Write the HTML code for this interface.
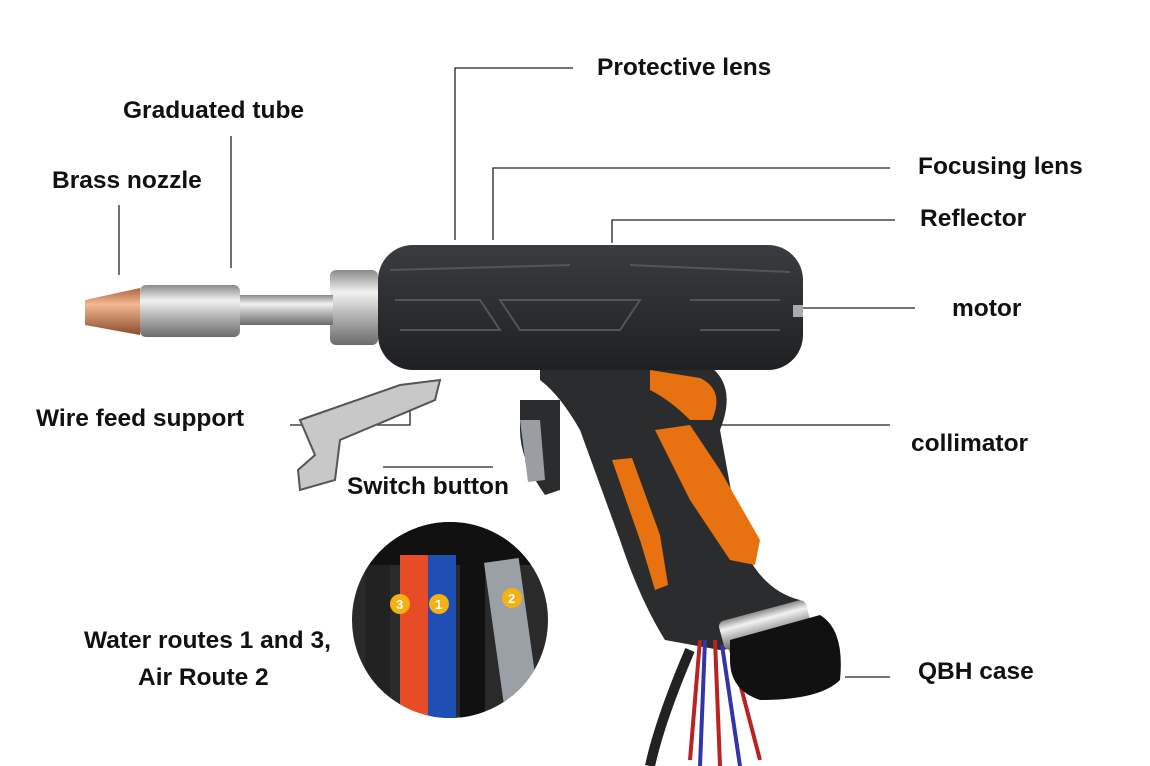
<!DOCTYPE html>
<html><head><meta charset="utf-8"><style>
html,body{margin:0;padding:0;background:#fff;}
svg{display:block;}
text{font-family:"Liberation Sans",Arial,sans-serif;font-weight:bold;font-size:24.5px;fill:#111;}
</style></head><body>
<svg width="1150" height="766" viewBox="0 0 1150 766" xmlns="http://www.w3.org/2000/svg">
<defs>
<linearGradient id="metal" x1="0" y1="0" x2="0" y2="1">
<stop offset="0" stop-color="#8a8a8a"/><stop offset="0.3" stop-color="#f2f2f2"/><stop offset="0.6" stop-color="#b5b5b5"/><stop offset="1" stop-color="#6b6b6b"/></linearGradient>
<linearGradient id="copper" x1="0" y1="0" x2="0" y2="1">
<stop offset="0" stop-color="#b0643c"/><stop offset="0.35" stop-color="#f3b894"/><stop offset="1" stop-color="#8c4a2a"/></linearGradient>
<linearGradient id="body" x1="0" y1="0" x2="0" y2="1">
<stop offset="0" stop-color="#3a3d40"/><stop offset="1" stop-color="#1e2022"/></linearGradient>
<clipPath id="ic"><circle cx="450" cy="620" r="98"/></clipPath>
</defs>

<g stroke="#222" stroke-width="1.3" fill="none">
<polyline points="573,68 455,68 455,240"/>
<line x1="231" y1="136" x2="231" y2="268"/>
<line x1="119" y1="205" x2="119" y2="275"/>
<polyline points="890,168 493,168 493,240"/>
<polyline points="895,220 612,220 612,243"/>
<line x1="800" y1="308" x2="915" y2="308"/>
<line x1="705" y1="425" x2="890" y2="425"/>
<line x1="845" y1="677" x2="890" y2="677"/>
<polyline points="290,425 410,425 410,402"/>
<line x1="383" y1="467" x2="493" y2="467"/>
</g>

<path d="M540,360 L700,360 Q740,380 720,430 L740,540 Q760,590 800,600 L810,640 L720,650 L665,640 Q640,600 620,540 L580,430 Q560,395 540,380 Z" fill="#2a2c2e"/>
<path d="M650,370 L700,378 Q725,390 712,420 L690,420 Q670,400 650,390 Z" fill="#e8720f"/>
<path d="M655,430 L690,425 L720,470 L760,540 L755,565 L730,560 L690,500 Z" fill="#e8720f"/>
<path d="M612,460 L632,458 L660,535 L668,585 L655,590 L640,540 Z" fill="#e8720f"/>
<path d="M520,400 L560,400 L560,490 L545,495 Q520,460 520,430 Z" fill="#2a2c2e"/>
<path d="M520,420 L540,420 L545,480 L528,482 Z" fill="#9a9ea2"/>
<rect x="378" y="245" width="425" height="125" rx="35" fill="url(#body)"/>
<g stroke="#555" stroke-width="2" fill="none">
<path d="M395,300 L480,300 L500,330 L400,330"/>
<path d="M500,300 L640,300 L620,330 L520,330 Z"/>
<path d="M690,300 L780,300 M700,330 L780,330"/>
<path d="M390,270 L570,265 M630,265 L790,272"/>
</g>
<rect x="793" y="305" width="10" height="12" fill="#aaa"/>
<rect x="330" y="270" width="48" height="75" rx="6" fill="url(#metal)"/>
<rect x="238" y="295" width="95" height="30" fill="url(#metal)"/>
<rect x="140" y="285" width="100" height="52" rx="6" fill="url(#metal)"/>
<path d="M85,300 L140,288 L140,335 L85,325 Z" fill="url(#copper)"/>
<path d="M300,420 L400,385 L440,380 L435,400 L340,440 L335,480 L300,490 L298,470 L315,455 Z" fill="#c8c8c8" stroke="#555" stroke-width="2"/>

<path d="M700,640 L690,760 M715,640 L720,766 M730,645 L760,760" stroke="#b22" stroke-width="4"/>
<path d="M705,640 L700,766 M722,645 L740,766" stroke="#33a" stroke-width="4"/>
<path d="M690,650 Q660,720 650,766" stroke="#222" stroke-width="10" fill="none"/>
<rect x="720" y="610" width="90" height="30" rx="6" transform="rotate(-15 765 625)" fill="url(#metal)"/>
<path d="M730,640 L820,615 Q845,630 840,680 Q820,700 760,700 Q730,690 730,660 Z" fill="#111"/>

<g clip-path="url(#ic)">
<rect x="350" y="520" width="200" height="200" fill="#2a2a2a"/>
<rect x="350" y="520" width="200" height="45" fill="#111"/>
<rect x="365" y="565" width="25" height="160" fill="#222"/>
<rect x="400" y="555" width="28" height="170" fill="#e74c26"/>
<rect x="428" y="555" width="28" height="170" fill="#1e4fb5"/>
<rect x="460" y="555" width="25" height="170" fill="#111"/>
<rect x="495" y="560" width="35" height="165" fill="#9aa0a6" transform="rotate(-8 510 640)"/>
</g>
<circle cx="400" cy="604" r="10" fill="#f5b014"/><circle cx="439" cy="604" r="10" fill="#f5b014"/><circle cx="512" cy="598" r="10" fill="#f5b014"/>
<text x="396" y="609" style="font-size:13px;fill:#fff">3</text><text x="435" y="609" style="font-size:13px;fill:#fff">1</text><text x="508" y="603" style="font-size:13px;fill:#fff">2</text>

<text x="597" y="75">Protective lens</text>
<text x="123" y="118">Graduated tube</text>
<text x="52" y="188">Brass nozzle</text>
<text x="918" y="174">Focusing lens</text>
<text x="920" y="226">Reflector</text>
<text x="952" y="316">motor</text>
<text x="36" y="426">Wire feed support</text>
<text x="911" y="451">collimator</text>
<text x="347" y="494">Switch button</text>
<text x="84" y="648">Water routes 1 and 3,</text>
<text x="138" y="685">Air Route 2</text>
<text x="918" y="679">QBH case</text>
</svg>
</body></html>
